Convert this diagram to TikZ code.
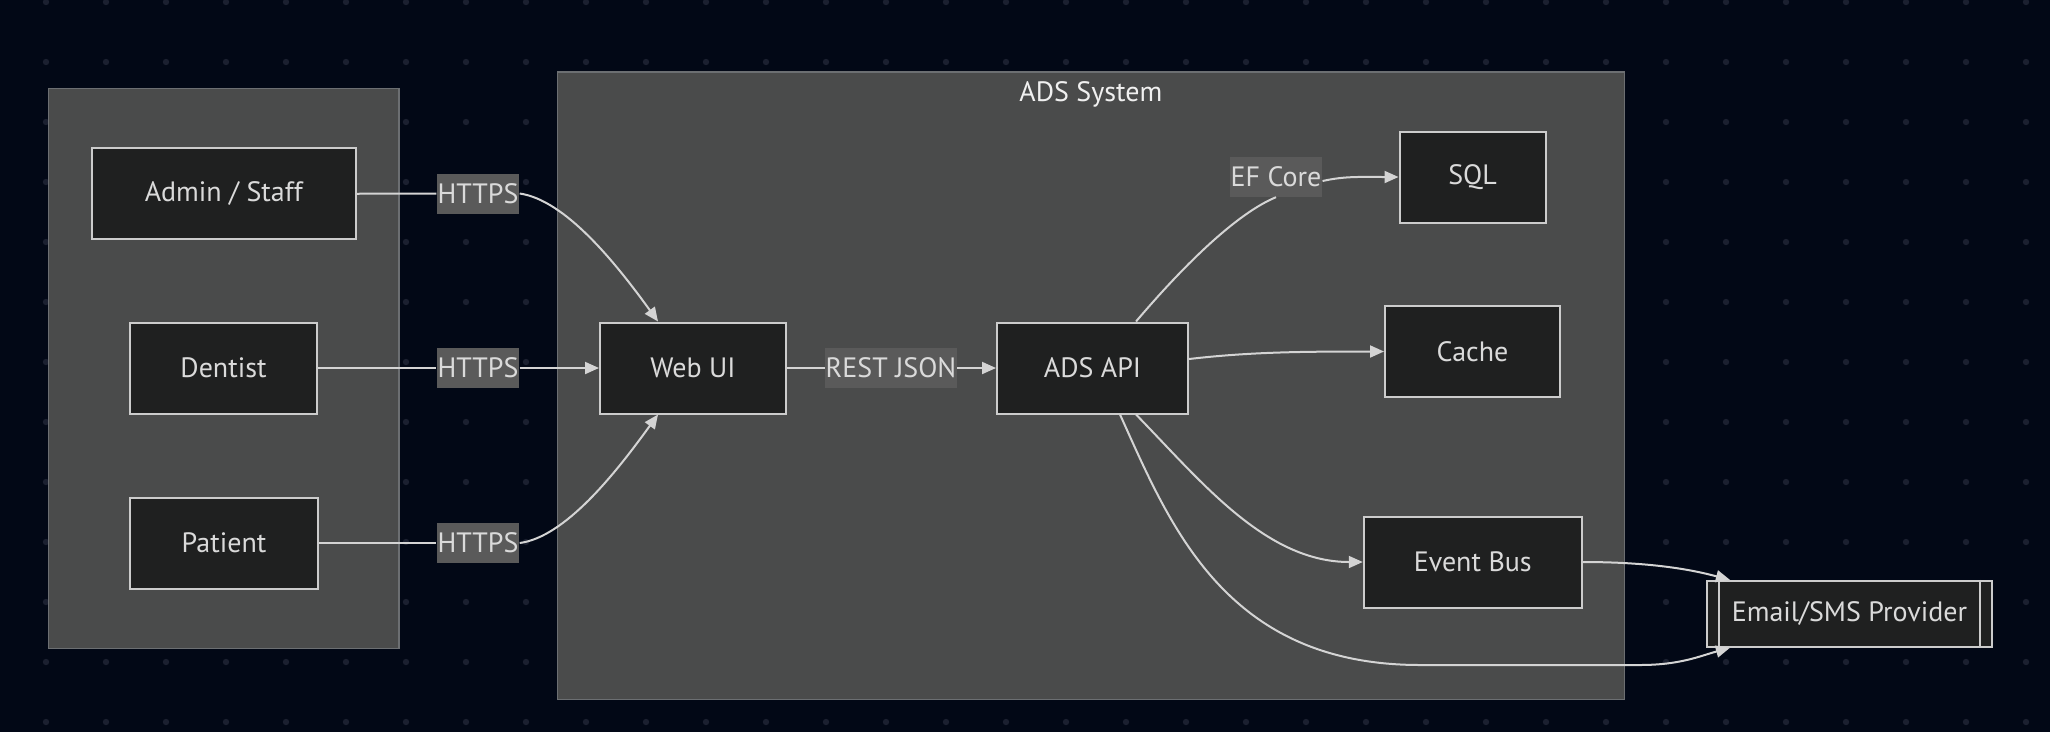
\documentclass[tikz,border=0pt]{standalone}
\usepackage{fontspec}
\setmainfont{PT Sans}
\usetikzlibrary{positioning}
\usetikzlibrary{arrows.meta}
\usetikzlibrary{fit}
\usetikzlibrary{backgrounds}

\pgfdeclarelayer{canvas}
\pgfsetlayers{canvas,background,main}

\definecolor{bgnavy}{HTML}{020816}
\definecolor{dotgrey}{HTML}{1B2030}
\definecolor{clusterfill}{HTML}{4A4B4B}
\definecolor{clusterline}{HTML}{6C6F72}
\definecolor{nodefill}{HTML}{1F2020}
\definecolor{nodeline}{HTML}{CCCCCC}
\definecolor{nodetext}{HTML}{DADADA}
\definecolor{lblfill}{HTML}{5A5A5A}
\definecolor{edgecol}{HTML}{D4D4D4}

\tikzset{
  box/.style={draw=nodeline, fill=nodefill, line width=2pt, text=nodetext,
    font=\fontsize{28}{34}\selectfont, minimum height=91pt, inner sep=0pt},
  edgelbl/.style={fill=lblfill, text=nodetext, font=\fontsize{28}{34}\selectfont,
    inner xsep=1pt, inner ysep=0pt, minimum height=40pt},
  cluster/.style={draw=clusterline, fill=clusterfill, line width=1.5pt},
  ttl/.style={text=white!94!black, font=\fontsize{28}{34}\selectfont, inner sep=0pt},
  plain/.style={draw=edgecol, line width=2pt},
  link/.style={plain, -{Triangle[length=14pt,width=12pt]}},
}

\begin{document}
\begin{tikzpicture}[x=1pt, y=-1pt]
        \useasboundingbox (0,0) rectangle (2050,732);
        \begin{pgfonlayer}{canvas}
            \fill[bgnavy] (0,0) rectangle (2050,732);
            \foreach \i in {0,...,33}
                \foreach \j in {0,...,12}
                    \fill[dotgrey] (46+60*\i, 2+60*\j) circle (3.2);
        \end{pgfonlayer}

        % people
        \node[box, name=admin, minimum width=264.5pt] at (223.75,193.75) {Admin / Staff};
        \node[box, name=dentist, minimum width=187pt] at (223.5,368) {Dentist};
        \node[box, name=patient, minimum width=188pt] at (224,543) {Patient};

        % ADS System
        \node[box, name=webui, minimum width=186pt] at (693,368) {Web UI};
        \node[box, name=api, minimum width=191pt] at (1092.5,368) {ADS API};
        \node[box, name=sql, minimum width=146pt] at (1472.5,177) {SQL};
        \node[box, name=cache, minimum width=175pt] at (1472.5,351.5) {Cache};
        \node[box, name=bus, minimum width=218pt] at (1472.75,562) {Event Bus};

        \node[box, name=mail, minimum width=285pt, minimum height=66pt] at (1849.4,613.8) {Email/SMS Provider};
        \draw[nodeline, line width=2pt] ([xshift=13pt]mail.north west) -- ([xshift=13pt]mail.south west)
            ([xshift=-13pt]mail.north east) -- ([xshift=-13pt]mail.south east);

        \node[edgelbl, name=h1] at (478,193.5) {HTTPS};
        \node[edgelbl, name=h2] at (478,368) {HTTPS};
        \node[edgelbl, name=h3] at (478,543) {HTTPS};
        \node[edgelbl, name=rest] at (891,368) {REST JSON};
        \node[edgelbl, name=ef] at (1276,177) {EF Core};

        \begin{scope}[on background layer]
            \node[cluster, fit=(admin) (dentist) (patient), inner xsep=42pt, inner ysep=59pt, name=users] {};
            \coordinate (adsfoot) at (1090,641);
            \node[cluster, fit=(webui) (sql) (bus) (adsfoot), inner xsep=41.5pt, inner ysep=58.6pt, name=ads] {};
        \end{scope}
        \node[ttl, name=adsttl, below=10pt of ads.north] {ADS System};

        \draw[plain] (admin.east) -- (h1.west);
        \draw[link] (h1.east) .. controls (565,200) and (615,262) .. ([xshift=-35pt]webui.north);
        \draw[plain] (dentist.east) -- (h2.west);
        \draw[link] (h2.east) -- (webui.west);
        \draw[plain] (patient.east) -- (h3.west);
        \draw[link] (h3.east) .. controls (565,537) and (615,474) .. ([xshift=-35pt]webui.south);

        \draw[plain] (webui.east) -- (rest.west);
        \draw[link] (rest.east) -- (api.west);

        \draw[plain] ([xshift=43.5pt]api.north) .. controls (1190,258) and (1240,212) .. (ef.south);
        \draw[link] ([yshift=-4pt]ef.east) .. controls (1345,176) and (1360,177) .. (sql.west);
        \draw[link] ([yshift=9pt]api.east) .. controls (1250,352) and (1300,351.5) .. (cache.west);
        \draw[link] ([xshift=43.5pt]api.south) .. controls (1200,480) and (1265,562) .. (bus.west);
        \draw[link] ([xshift=27.5pt]api.south) .. controls (1170,525) and (1225,665) .. (1420,665)
            -- (1640,665) .. controls (1680,665) and (1700,656) .. ([xshift=24pt]mail.south west);
        \draw[link] (bus.east) .. controls (1660,562) and (1700,572) .. ([xshift=24pt]mail.north west);
    \end{tikzpicture}
\end{document}
